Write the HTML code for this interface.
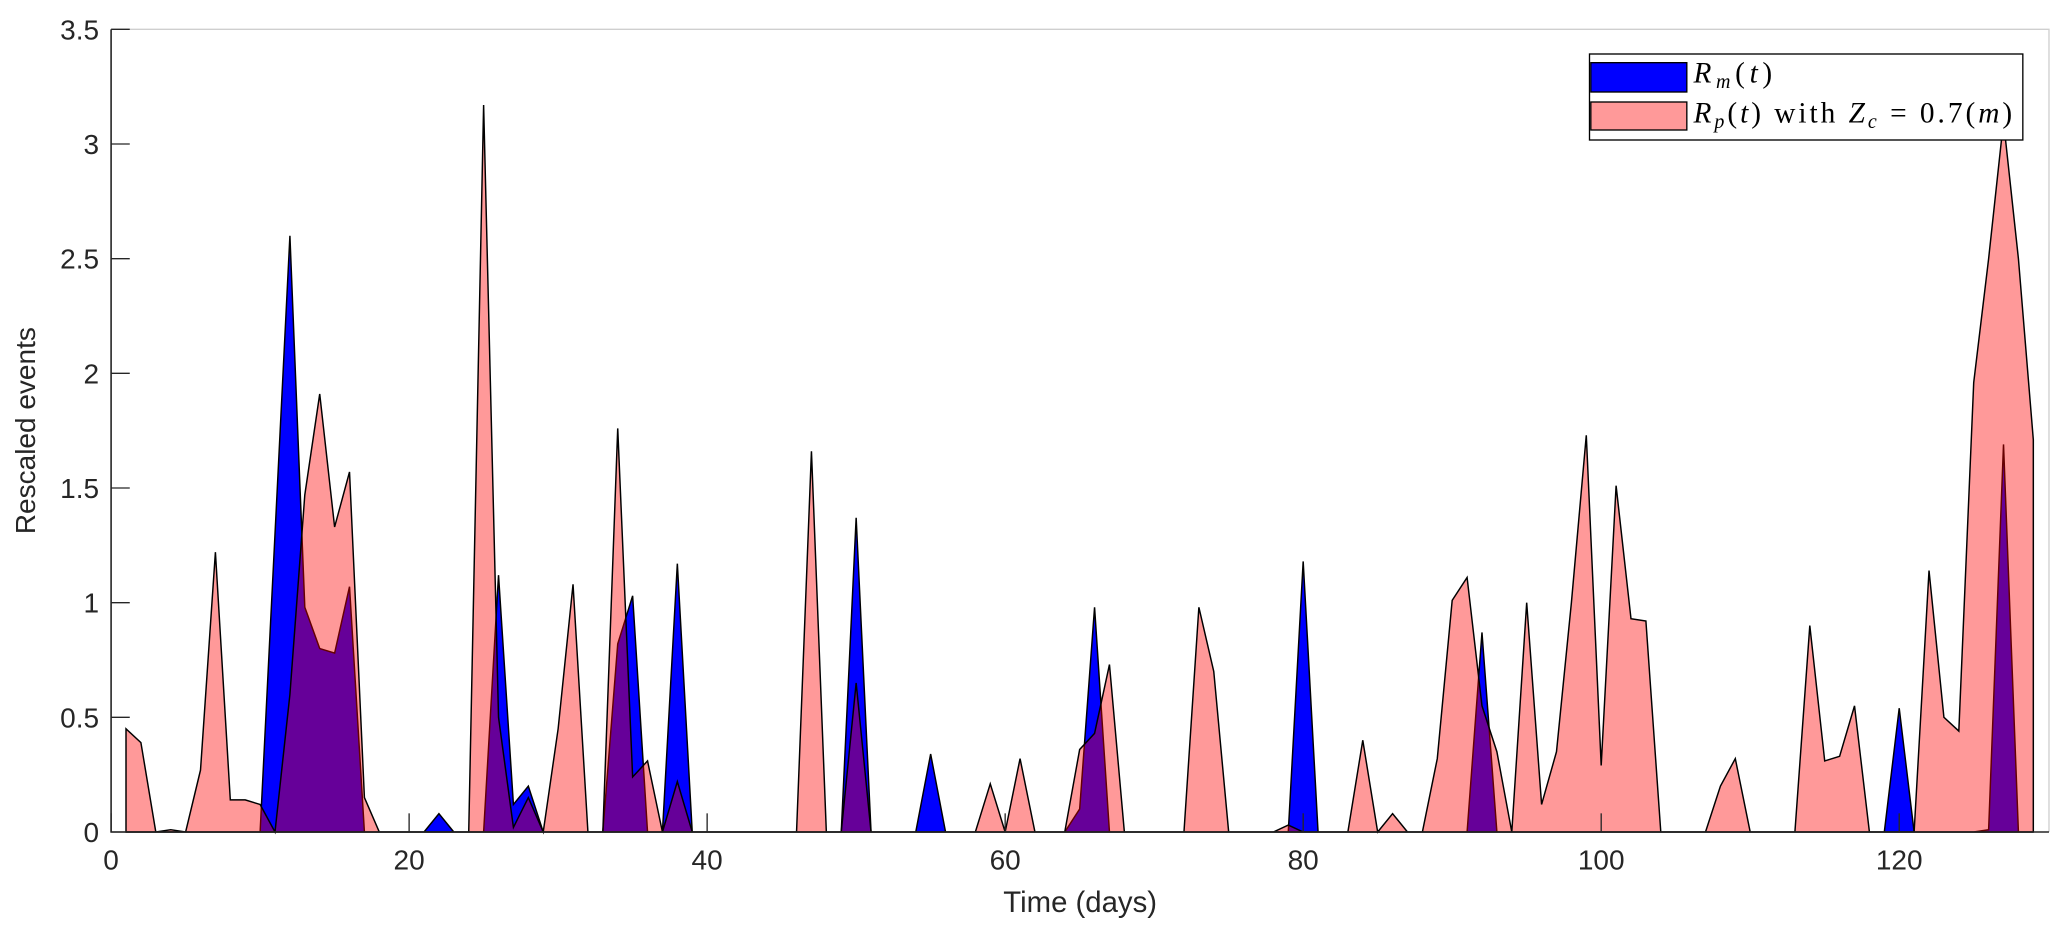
<!DOCTYPE html>
<html><head><meta charset="utf-8"><style>
html,body{margin:0;padding:0;background:#fff;}
svg{display:block;}
text{font-family:"Liberation Sans",sans-serif;fill:#262626;}
.m{font-family:"Liberation Serif",serif;fill:#000;}
</style></head><body>
<svg id="chart" width="2067" height="936" viewBox="0 0 1550 702" xmlns="http://www.w3.org/2000/svg">
<rect width="1550" height="702" fill="#fff"/>
<g id="plot"></g>
<g id="axes"></g>
<text x="26" y="323" font-size="21" text-anchor="middle" transform="rotate(-90 26 323)">Rescaled events</text>
<text x="810" y="684" font-size="22" text-anchor="middle">Time (days)</text>
<g>
<rect x="1192" y="40.5" width="325" height="64.5" fill="#fff" stroke="#000" stroke-width="1"/>
<rect x="1193" y="47" width="72" height="22" fill="#0000ff" stroke="#000" stroke-width="1"/>
<text class="m" x="1270" y="62" font-size="22" textLength="59" lengthAdjust="spacing"><tspan font-style="italic">R</tspan><tspan font-style="italic" font-size="15" dy="4">m</tspan><tspan dy="-4">(</tspan><tspan font-style="italic">t</tspan>)</text>
<rect x="1193" y="76.5" width="72" height="21" fill="#ff9999" stroke="#000" stroke-width="1"/>
<text class="m" x="1270" y="92" font-size="22" textLength="239" lengthAdjust="spacing"><tspan font-style="italic">R</tspan><tspan font-style="italic" font-size="15" dy="4">p</tspan><tspan dy="-4">(</tspan><tspan font-style="italic">t</tspan>) with <tspan font-style="italic">Z</tspan><tspan font-style="italic" font-size="15" dy="4">c</tspan><tspan dy="-4"> = 0.7(</tspan><tspan font-style="italic">m</tspan>)</text>
</g>
</svg>
<script>
const days = Array.from({length:129},(_,i)=>i+1);
const rmValues = [0,0,0,0,0,0,0,0,0,0, 1.3,2.6,0.98,0.8,0.78,1.07,0,0,0,0, 0,0.08,0,0,0,1.12,0.12,0.2,0,0, 0,0,0,0.82,1.03,0,0,1.17,0,0, 0,0,0,0,0,0,0,0,0,1.37, 0,0,0,0,0.34,0,0,0,0,0, 0,0,0,0,0.1,0.98,0,0,0,0, 0,0,0,0,0,0,0,0,0,1.18, 0,0,0,0,0,0,0,0,0,0, 0,0.87,0,0,0,0,0,0,0,0, 0,0,0,0,0,0,0,0,0,0, 0,0,0,0,0,0,0,0,0,0.54, 0,0,0,0,0,0.01,1.69,0,0];
const rpValues = [0.45,0.39,0,0.01,0,0.27,1.22,0.14,0.14,0.12, 0,0.6,1.47,1.91,1.33,1.57,0.15,0,0,0, 0,0,0,0,3.17,0.5,0.02,0.15,0,0.45, 1.08,0,0,1.76,0.24,0.31,0,0.22,0,0, 0,0,0,0,0,0,1.66,0,0,0.65, 0,0,0,0,0,0,0,0,0.21,0, 0.32,0,0,0,0.36,0.43,0.73,0,0,0, 0,0,0.98,0.7,0,0,0,0,0.03,0, 0,0,0,0.4,0,0.08,0,0,0.32,1.01, 1.11,0.55,0.35,0,1.0,0.12,0.35,1.0,1.73,0.29, 1.51,0.93,0.92,0,0,0,0,0.2,0.32,0, 0,0,0,0.9,0.31,0.33,0.55,0,0,0, 0,1.14,0.5,0.44,1.96,2.5,3.1,2.5,1.71];
const xTicks = [0,20,40,60,80,100,120];
const yTicks = [0,0.5,1,1.5,2,2.5,3,3.5];
const yTickLabels = ["0","0.5","1","1.5","2","2.5","3","3.5"];

const L=83.2,R=1536.6,T=22,B=624,XMAX=130.05,YMAX=3.5;
const xs=v=>L+(R-L)*v/XMAX;
const ys=v=>B-(B-T)*v/YMAX;
const NS='http://www.w3.org/2000/svg';
const plot=document.getElementById('plot');
const axes=document.getElementById('axes');
function areaPath(vals){
  let d='M'+xs(days[0])+','+ys(0);
  vals.forEach((v,i)=>{d+=' L'+xs(days[i]).toFixed(2)+','+ys(v).toFixed(2);});
  d+=' L'+xs(days[days.length-1])+','+ys(0)+' Z';
  return d;
}
const pb=document.createElementNS(NS,'path');
pb.setAttribute('d',areaPath(rmValues));
pb.setAttribute('fill','#0000ff');pb.setAttribute('stroke','#000');pb.setAttribute('stroke-width','1.1');


plot.appendChild(pb);
const pp=document.createElementNS(NS,'path');
pp.setAttribute('d',areaPath(rpValues));
pp.setAttribute('fill','rgba(255,0,0,0.4)');pp.setAttribute('stroke','#000');pp.setAttribute('stroke-width','1.1');


plot.appendChild(pp);
const box=document.createElementNS(NS,'path');
box.setAttribute('d',`M${L},${T} L${R},${T} L${R},${B}`);
box.setAttribute('fill','none');box.setAttribute('stroke','#cfcfcf');box.setAttribute('stroke-width','1');


axes.appendChild(box);
const ax=document.createElementNS(NS,'path');
ax.setAttribute('d',`M${L},${T} L${L},${B} L${R},${B}`);
ax.setAttribute('fill','none');ax.setAttribute('stroke','#262626');ax.setAttribute('stroke-width','1.2');


axes.appendChild(ax);
xTicks.forEach(t=>{
  const ln=document.createElementNS(NS,'line');
  ln.setAttribute('x1',xs(t));ln.setAttribute('x2',xs(t));ln.setAttribute('y1',B);ln.setAttribute('y2',B-14);
  ln.setAttribute('stroke','#262626');
  
  
  axes.appendChild(ln);
  const tx=document.createElementNS(NS,'text');
  tx.setAttribute('x',xs(t));tx.setAttribute('y',652);tx.setAttribute('font-size','21');tx.setAttribute('text-anchor','middle');
  tx.textContent=String(t);
  
  
  axes.appendChild(tx);
});
yTicks.forEach((t,i)=>{
  const ln=document.createElementNS(NS,'line');
  ln.setAttribute('x1',L);ln.setAttribute('x2',L+14);ln.setAttribute('y1',ys(t));ln.setAttribute('y2',ys(t));
  ln.setAttribute('stroke','#262626');
  
  
  axes.appendChild(ln);
  const tx=document.createElementNS(NS,'text');
  tx.setAttribute('x',L-9);tx.setAttribute('y',ys(t)+7.5);tx.setAttribute('font-size','21');tx.setAttribute('text-anchor','end');
  tx.textContent=yTickLabels[i];
  
  
  axes.appendChild(tx);
});
</script>
</body></html>
